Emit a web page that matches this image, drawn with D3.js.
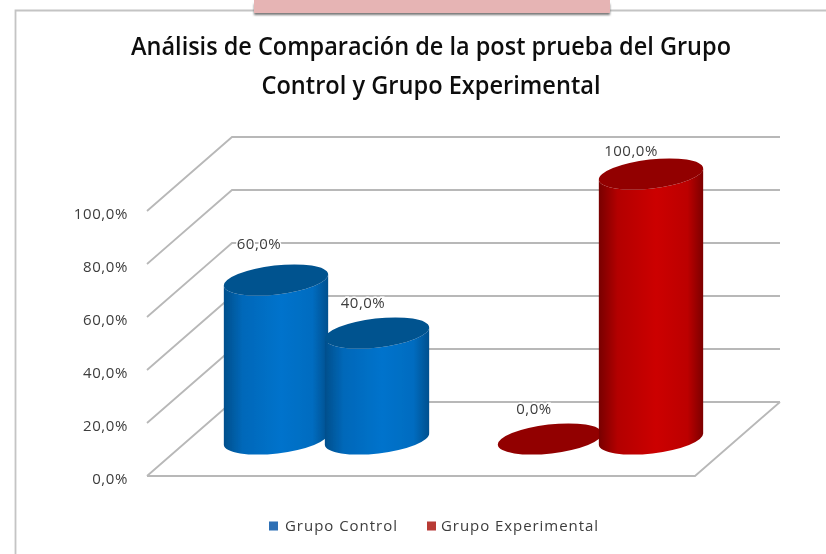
<!DOCTYPE html>
<html><head><meta charset="utf-8">
<script src="https://cdnjs.cloudflare.com/ajax/libs/d3/7.8.5/d3.min.js"></script>
<style>html,body{margin:0;padding:0;background:#fff;overflow:hidden}svg{display:block}
text{font-family:"Open Sans",sans-serif}</style></head><body>
<script>
const titleLines = ["Análisis de Comparación de la post prueba del Grupo","Control y Grupo Experimental"];
const categories = ["A","B"];
const slots = [0,1];
const seriesNames = ["Grupo Control","Grupo Experimental"];
const controlValues = [60,40];
const experimentalValues = [0,100];
const yTicks = [0,20,40,60,80,100];

const W=826,H=554;
const svg=d3.select("body").append("svg").attr("width",W).attr("height",H);
const defs=svg.append("defs");
const blur=defs.append("filter").attr("id","soft").attr("x","-5%").attr("y","-5%").attr("width","110%").attr("height","110%");
blur.append("feGaussianBlur").attr("stdDeviation",0.7);
const sh=defs.append("filter").attr("id","sh").attr("x","-5%").attr("y","-50%").attr("width","110%").attr("height","250%");
sh.append("feGaussianBlur").attr("stdDeviation",1.2);

function grad(id,edge,mid,edge2){
  const g=defs.append("linearGradient").attr("id",id);
  [[0,edge],[.18,d3.interpolateRgb(edge,mid)(.7)],[.55,mid],[.85,d3.interpolateRgb(edge2,mid)(.8)],[1,edge2]]
    .forEach(([o,c])=>g.append("stop").attr("offset",o).attr("stop-color",c));
}
const pal=[{top:"#00528f",id:"gB"},{top:"#920000",id:"gR"}];
grad("gB","#004f8c","#0073cc","#00508e");
grad("gR","#780000","#cc0000","#7c0000");

const root=svg.append("g").attr("filter","url(#soft)");

// Frame
root.append("path").attr("d","M15.5 554V10.5H826").attr("fill","none").attr("stroke","#c4c4c4").attr("stroke-width",1.8);
root.append("rect").attr("x",254).attr("y",4).attr("width",356).attr("height",11).attr("fill","#777").attr("filter","url(#sh)");
root.append("rect").attr("x",254).attr("y",0).attr("width",356).attr("height",13).attr("fill","#e6b4b4");

// Title
root.append("g").selectAll("text").data(titleLines).join("text")
  .attr("x",431).attr("y",(d,i)=>55+i*39).attr("text-anchor","middle")
  .attr("font-size",25).attr("font-weight",600).attr("fill","#111")
  .attr("textLength",(d,i)=>i?339:600).attr("lengthAdjust","spacingAndGlyphs").text(d=>d);

// Scales
const frontLeft=147,frontRight=695,depthX=85,depthY=74;
const y=d3.scaleLinear().domain([0,100]).range([476,211]);
const x0=d3.scaleBand().domain(categories).range([frontLeft,frontRight]);
const x1=d3.scaleBand().domain(slots).range([-101,101]);

// Walls
const gridColor="#b8b8b8";
const grid=root.append("g").attr("fill","none").attr("stroke",gridColor);
grid.selectAll("path.wall").data(yTicks).join("path").attr("class","wall").attr("stroke-width",1.8)
  .attr("d",d=>`M${frontLeft} ${y(d)}L${frontLeft+depthX} ${y(d)-depthY}H${frontRight+depthX}`);
grid.append("path").attr("stroke-width",1.8)
  .attr("d",`M${frontLeft} ${y(0)}H${frontRight}L${frontRight+depthX} ${y(0)-depthY}`);

// Axis
const axis=d3.axisLeft(y).tickValues(yTicks).tickSize(0).tickPadding(0)
  .tickFormat(d=>d.toFixed(1).replace(".",",")+"%");
const ag=root.append("g").attr("transform","translate(128,2.5)").call(axis);
ag.select(".domain").remove();
ag.selectAll("text").attr("font-size",15).attr("letter-spacing",0.6).attr("font-family",'"Open Sans",sans-serif').attr("fill","#3c3c3c");

// Cylinders
const a=52.5,b=14.5,tilt=-6.5,rad=tilt*Math.PI/180;
const ex=a*Math.cos(rad),ey=a*Math.sin(rad);
const groups=[controlValues,experimentalValues];
const cylinders=[];
categories.forEach((c,ci)=>groups[ci].forEach((v,si)=>cylinders.push({c,si,v,pal:pal[ci]})));
const cx=d=>x0(d.c)+x0.bandwidth()/2+depthX/2+x1(d.si)+x1.bandwidth()/2;
const cyOf=v=>y(v)-depthY/2;
const cyl=root.append("g").selectAll("g").data(cylinders).join("g");
cyl.filter(d=>d.v>0).append("path").attr("fill",d=>`url(#${d.pal.id})`)
  .attr("d",d=>{const X=cx(d),T=cyOf(d.v),B=cyOf(0);
    return `M${X-ex} ${T-ey}L${X-ex} ${B-ey}A${a} ${b} ${tilt} 0 0 ${X+ex} ${B+ey}L${X+ex} ${T+ey}A${a} ${b} ${tilt} 0 1 ${X-ex} ${T-ey}Z`;});
cyl.append("ellipse").attr("rx",a).attr("ry",b).attr("fill",d=>d.pal.top)
  .attr("transform",d=>`translate(${cx(d)},${cyOf(d.v)}) rotate(${tilt})`);

// Data labels: nudged per mark to keep them clear of the cylinders
const labelNudge=[[-17,-31],[-14,-25],[-16,-25],[-20,-18]];
root.append("g").selectAll("text").data(cylinders).join("text")
  .attr("x",(d,i)=>cx(d)+labelNudge[i][0]).attr("y",(d,i)=>cyOf(d.v)+labelNudge[i][1])
  .attr("text-anchor","middle").attr("font-size",15).attr("letter-spacing",0.5).attr("fill","#3c3c3c")
  .attr("stroke","#fff").attr("stroke-width",3).attr("paint-order","stroke")
  .text(d=>d.v.toFixed(1).replace(".",",")+"%");

// Legend
const legendColors=["#2f6fb5","#b83a36"];
const lx=[269,427];
const lg=root.append("g").selectAll("g").data(seriesNames).join("g").attr("transform",(d,i)=>`translate(${lx[i]},526)`);
lg.append("rect").attr("y",-4.5).attr("width",9).attr("height",9).attr("fill",(d,i)=>legendColors[i]);
lg.append("text").attr("x",(d,i)=>i?14:16).attr("y",5).attr("font-size",15).attr("fill","#3c3c3c")
  .attr("textLength",(d,i)=>i?157:112).attr("lengthAdjust","spacing").text(d=>d);
</script></body></html>
